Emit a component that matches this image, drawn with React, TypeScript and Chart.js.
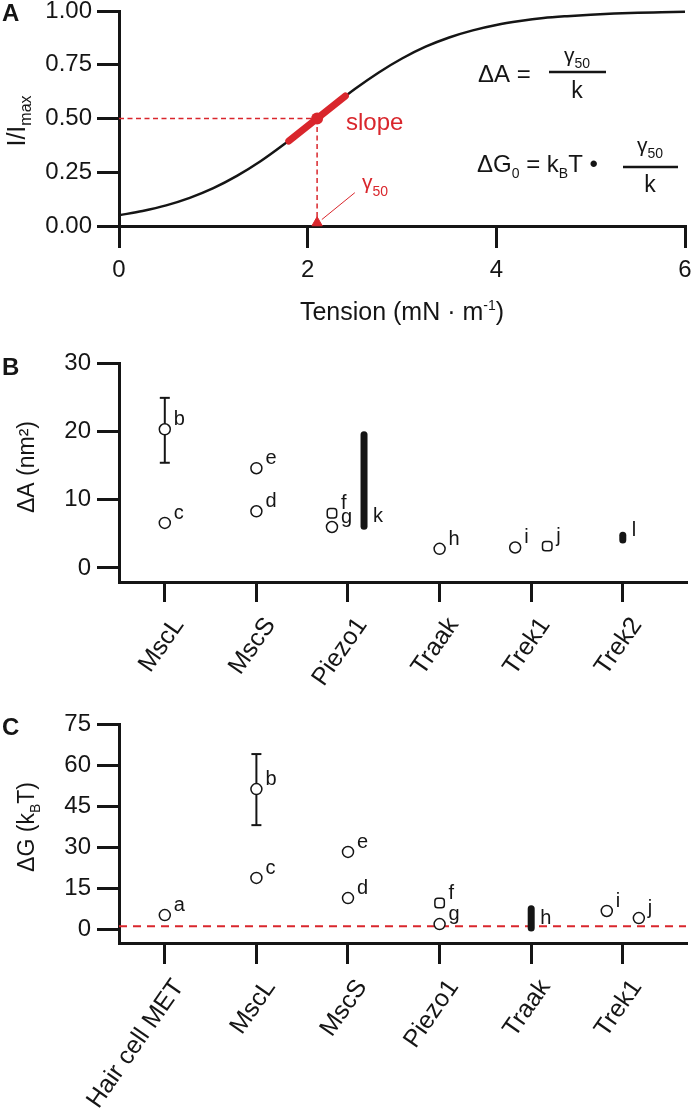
import React, { useEffect, useRef } from 'react';
import { Chart, registerables } from 'chart.js';

Chart.register(...registerables);

// ================= Panel A data =================
const tension = [0, 0.25, 0.5, 0.75, 1, 1.25, 1.5, 1.75, 2, 2.25, 2.5, 2.75, 3, 3.25, 3.5, 3.75, 4, 4.25, 4.5, 4.75, 5, 5.25, 5.5, 5.75, 6];
const normCurrent = [0.05, 0.07, 0.096, 0.131, 0.176, 0.233, 0.301, 0.38, 0.465, 0.552, 0.637, 0.713, 0.779, 0.834, 0.877, 0.91, 0.935, 0.953, 0.967, 0.976, 0.983, 0.988, 0.992, 0.994, 0.996];
const tensionTicks = [0, 2, 4, 6];
const currentTicks = [0, 0.25, 0.5, 0.75, 1];
const gamma50 = 2.1;
const halfCurrent = 0.5;
const slopeTension = [1.8, 2.4];
const slopeCurrent = [0.395, 0.605];
const pointerTension = [2.15, 2.5];
const pointerCurrent = [0.03, 0.155];

// ================= Panel B data =================
const areaChannels = ['MscL', 'MscS', 'Piezo1', 'Traak', 'Trek1', 'Trek2'];
const areaTicks = [0, 10, 20, 30];
const areaRefs = ['b', 'c', 'e', 'd', 'f', 'g', 'h', 'i', 'j'];
const areaChannelIndex = [0, 0, 1, 1, 2, 2, 3, 4, 4];
const areaSide = [0, 0, 0, 0, -1, -1, 0, -1, 1];
const areaValues = [20.3, 6.6, 14.6, 8.3, 8.0, 6.0, 2.8, 3.0, 3.2];
const areaErrRefs = ['b'];
const areaErrLow = [15.4];
const areaErrHigh = [24.9];
const areaRangeRefs = ['k', 'l'];
const areaRangeChannel = [2, 5];
const areaRangeSide = [1, 0];
const areaRangeLow = [6.1, 4.1];
const areaRangeHigh = [19.5, 4.8];

// ================= Panel C data =================
const energyChannels = ['Hair cell MET', 'MscL', 'MscS', 'Piezo1', 'Traak', 'Trek1'];
const energyTicks = [0, 15, 30, 45, 60, 75];
const energyRefs = ['a', 'b', 'c', 'e', 'd', 'f', 'g', 'i', 'j'];
const energyChannelIndex = [0, 1, 1, 2, 2, 3, 3, 5, 5];
const energySide = [0, 0, 0, 0, 0, 0, 0, -1, 1];
const energyValues = [5.1, 51.2, 18.7, 28.2, 11.3, 9.5, 1.8, 6.6, 4.0];
const energyErrRefs = ['b'];
const energyErrLow = [38];
const energyErrHigh = [64];
const energyRangeRefs = ['h'];
const energyRangeChannel = [4];
const energyRangeSide = [0];
const energyRangeLow = [0.4];
const energyRangeHigh = [7.4];
const thermalEnergy = 1;

// ================= Styles =================
const FONT = "'Liberation Sans', Arial, Helvetica, sans-serif";
const INK = '#151515';
const RED = '#d9262c';
const SIDE_STEP = 0.175;
const TRIANGLE_LIFT = 0.015;
const TICK_FONT = 24;
const CAT_FONT = 25;
const CAT_ROTATION = 55;
const AXIS_LEFT = 119;

type Seg = { t: string; size: number; dy?: number; bold?: boolean };

function drawSegs(ctx: any, segs: Seg[], x: number, y: number, align: string, color: string) {
  ctx.save();
  ctx.fillStyle = color;
  ctx.textBaseline = 'alphabetic';
  ctx.textAlign = 'left';
  const fontOf = (s: Seg) => `${s.bold ? 'bold ' : ''}${s.size}px ${FONT}`;
  const widths = segs.map((s) => {
    ctx.font = fontOf(s);
    return ctx.measureText(s.t).width;
  });
  const total = widths.reduce((a, b) => a + b, 0);
  let cx = align === 'left' ? x : align === 'center' ? x - total / 2 : x - total;
  segs.forEach((s, i) => {
    ctx.font = fontOf(s);
    ctx.fillText(s.t, cx, y + (s.dy || 0));
    cx += widths[i];
  });
  ctx.restore();
}

function drawRotated(ctx: any, segs: Seg[], x: number, y: number, color: string) {
  ctx.save();
  ctx.translate(x, y);
  ctx.rotate(-Math.PI / 2);
  drawSegs(ctx, segs, 0, 0, 'center', color);
  ctx.restore();
}

function tickGrid(len: number) {
  return {
    display: true,
    drawOnChartArea: false,
    drawTicks: true,
    tickLength: len,
    tickWidth: 3,
    tickColor: INK,
    color: INK,
    lineWidth: 3,
  };
}
const border = { display: true, color: INK, width: 3 };

function yScale(min: number, max: number, ticks: number[], fmt: (v: number) => string, tickLen: number, pad: number) {
  return {
    type: 'linear',
    min,
    max,
    afterBuildTicks: (s: any) => {
      s.ticks = ticks.map((v) => ({ value: v }));
    },
    afterFit: (s: any) => {
      s.width = AXIS_LEFT;
      s.paddingTop = 0;
      s.paddingBottom = 0;
    },
    ticks: {
      autoSkip: false,
      padding: pad,
      color: INK,
      font: { family: FONT, size: TICK_FONT },
      callback: (v: any) => fmt(Number(v)),
    },
    grid: tickGrid(tickLen),
    border,
  };
}

// ================= Panel A config =================
function configA(): any {
  const line = (xs: number[], ys: number[]) => xs.map((x, i) => ({ x, y: ys[i] }));
  const annot = {
    id: 'annotA',
    afterDraw(chart: any) {
      const ctx = chart.ctx;
      drawSegs(ctx, [{ t: 'A', size: 24, bold: true }], 2, 21, 'left', INK);
      drawRotated(ctx, [{ t: 'I/I', size: 25 }, { t: 'max', size: 16, dy: 6 }], 25, 121, INK);
      drawSegs(ctx, [{ t: 'Tension (mN · m', size: 25 }, { t: '-1', size: 14, dy: -10 }, { t: ')', size: 25 }], 402, 320, 'center', INK);
      drawSegs(ctx, [{ t: 'slope', size: 24 }], 346, 130, 'left', RED);
      drawSegs(ctx, [{ t: 'γ', size: 21 }, { t: '50', size: 14, dy: 7 }], 362, 189, 'left', RED);
      // Equation 1
      drawSegs(ctx, [{ t: 'ΔA =', size: 24 }], 478, 82, 'left', INK);
      drawSegs(ctx, [{ t: 'γ', size: 21 }, { t: '50', size: 14, dy: 6 }], 577, 62, 'center', INK);
      drawSegs(ctx, [{ t: 'k', size: 23 }], 577, 98, 'center', INK);
      // Equation 2
      drawSegs(
        ctx,
        [
          { t: 'ΔG', size: 24 },
          { t: '0', size: 14, dy: 6 },
          { t: ' = k', size: 24 },
          { t: 'B', size: 14, dy: 6 },
          { t: 'T • ', size: 24 },
        ],
        477,
        172,
        'left',
        INK
      );
      drawSegs(ctx, [{ t: 'γ', size: 21 }, { t: '50', size: 14, dy: 6 }], 650, 152, 'center', INK);
      drawSegs(ctx, [{ t: 'k', size: 23 }], 650, 192, 'center', INK);
      ctx.save();
      ctx.strokeStyle = INK;
      ctx.lineWidth = 2.5;
      ctx.beginPath();
      ctx.moveTo(549, 72);
      ctx.lineTo(606, 72);
      ctx.moveTo(623, 167);
      ctx.lineTo(678, 167);
      ctx.stroke();
      ctx.restore();
    },
  };
  return {
    type: 'scatter',
    data: {
      datasets: [
        {
          type: 'scatter',
          data: [{ x: gamma50, y: halfCurrent }],
          pointRadius: 6,
          pointBackgroundColor: RED,
          pointBorderColor: RED,
          pointBorderWidth: 0,
          clip: false,
        },
        {
          type: 'scatter',
          data: [{ x: gamma50, y: TRIANGLE_LIFT }],
          pointStyle: 'triangle',
          pointRadius: 6,
          pointBackgroundColor: RED,
          pointBorderColor: RED,
          pointBorderWidth: 1,
          clip: false,
        },
        {
          type: 'line',
          data: line(slopeTension, slopeCurrent),
          borderColor: RED,
          borderWidth: 7,
          borderCapStyle: 'round',
          pointRadius: 0,
          clip: false,
        },
        {
          type: 'line',
          data: line(pointerTension, pointerCurrent),
          borderColor: RED,
          borderWidth: 1,
          pointRadius: 0,
          clip: false,
        },
        {
          type: 'line',
          data: [
            { x: 0, y: halfCurrent },
            { x: gamma50, y: halfCurrent },
          ],
          borderColor: RED,
          borderWidth: 1.5,
          borderDash: [5, 3.5],
          pointRadius: 0,
          clip: false,
        },
        {
          type: 'line',
          data: [
            { x: gamma50, y: halfCurrent },
            { x: gamma50, y: 0 },
          ],
          borderColor: RED,
          borderWidth: 1.5,
          borderDash: [5, 3.5],
          pointRadius: 0,
          clip: false,
        },
        {
          type: 'line',
          data: line(tension, normCurrent),
          borderColor: INK,
          borderWidth: 2.5,
          cubicInterpolationMode: 'monotone',
          pointRadius: 0,
          clip: false,
        },
      ],
    },
    options: {
      responsive: false,
      animation: false,
      events: [],
      layout: { padding: { top: 11, right: 8, bottom: 0, left: 0 } },
      plugins: { legend: { display: false }, tooltip: { enabled: false } },
      scales: {
        x: {
          type: 'linear',
          min: 0,
          max: 6,
          afterBuildTicks: (s: any) => {
            s.ticks = tensionTicks.map((v) => ({ value: v }));
          },
          afterFit: (s: any) => {
            s.height = 109;
            s.paddingLeft = 0;
            s.paddingRight = 0;
          },
          ticks: { autoSkip: false, maxRotation: 0, minRotation: 0, padding: 8, color: INK, font: { family: FONT, size: TICK_FONT }, callback: (v: any) => String(v) },
          grid: tickGrid(22),
          border,
        },
        y: yScale(0, 1, currentTicks, (v) => v.toFixed(2), 22, 5),
      },
    },
    plugins: [annot],
  };
}

// ================= Category panels (B, C) =================
interface CatPanel {
  channels: string[];
  ticks: number[];
  yMin: number;
  yMax: number;
  xMax: number;
  refs: string[];
  chan: number[];
  side: number[];
  values: number[];
  errRefs: string[];
  errLow: number[];
  errHigh: number[];
  rangeRefs: string[];
  rangeChan: number[];
  rangeSide: number[];
  rangeLow: number[];
  rangeHigh: number[];
  rounded: string[];
  thermal?: number;
  padTop: number;
  xHeight: number;
  tickLen: number;
  letter: string;
  letterBaseline: number;
  title: Seg[];
  titleY: number;
}

const xOf = (c: number, s: number) => c + s * SIDE_STEP;

function configCat(p: CatPanel): any {
  const datasets: any[] = [];
  datasets.push({
    type: 'scatter',
    data: p.values.map((v, i) => ({ x: xOf(p.chan[i], p.side[i]), y: v })),
    pointStyle: p.refs.map((r) => (p.rounded.includes(r) ? 'rectRounded' : 'circle')),
    pointRadius: 5.5,
    pointBorderWidth: 1.5,
    pointBorderColor: INK,
    pointBackgroundColor: '#ffffff',
    clip: false,
  });
  p.errRefs.forEach((r, k) => {
    const i = p.refs.indexOf(r);
    const x = xOf(p.chan[i], p.side[i]);
    datasets.push({
      type: 'line',
      data: [
        { x, y: p.errLow[k] },
        { x, y: p.errHigh[k] },
      ],
      borderColor: INK,
      borderWidth: 2,
      pointStyle: 'line',
      pointRadius: 5,
      pointBorderWidth: 2,
      pointBorderColor: INK,
      clip: false,
    });
  });
  p.rangeRefs.forEach((r, k) => {
    const x = xOf(p.rangeChan[k], p.rangeSide[k]);
    datasets.push({
      type: 'line',
      data: [
        { x, y: p.rangeLow[k] },
        { x, y: p.rangeHigh[k] },
      ],
      borderColor: INK,
      borderWidth: 7,
      borderCapStyle: 'round',
      pointRadius: 0,
      clip: false,
    });
  });
  if (p.thermal !== undefined) {
    datasets.push({
      type: 'line',
      data: [
        { x: -0.5, y: p.thermal },
        { x: p.xMax, y: p.thermal },
      ],
      borderColor: RED,
      borderWidth: 2,
      borderDash: [8, 6],
      pointRadius: 0,
      clip: false,
    });
  }
  const annot = {
    id: 'annotCat',
    afterDatasetsDraw(chart: any) {
      const ctx = chart.ctx;
      const xs = chart.scales.x;
      const ys = chart.scales.y;
      ctx.save();
      ctx.fillStyle = INK;
      ctx.font = `20px ${FONT}`;
      ctx.textAlign = 'left';
      ctx.textBaseline = 'alphabetic';
      p.refs.forEach((r, i) => {
        ctx.fillText(r, xs.getPixelForValue(xOf(p.chan[i], p.side[i])) + 9, ys.getPixelForValue(p.values[i]) - 4);
      });
      p.rangeRefs.forEach((r, k) => {
        ctx.fillText(r, xs.getPixelForValue(xOf(p.rangeChan[k], p.rangeSide[k])) + 9, ys.getPixelForValue(p.rangeLow[k]) - 4);
      });
      ctx.restore();
    },
    afterDraw(chart: any) {
      const ctx = chart.ctx;
      drawSegs(ctx, [{ t: p.letter, size: 24, bold: true }], 2, p.letterBaseline, 'left', INK);
      drawRotated(ctx, p.title, 34, p.titleY, INK);
    },
  };
  return {
    type: 'scatter',
    data: { datasets },
    options: {
      responsive: false,
      animation: false,
      events: [],
      layout: { padding: { top: p.padTop, right: 6, bottom: 0, left: 0 } },
      plugins: { legend: { display: false }, tooltip: { enabled: false } },
      scales: {
        x: {
          type: 'linear',
          min: -0.5,
          max: p.xMax,
          afterBuildTicks: (s: any) => {
            s.ticks = p.channels.map((_, i) => ({ value: i }));
          },
          afterFit: (s: any) => {
            s.height = p.xHeight;
            s.paddingLeft = 0;
            s.paddingRight = 0;
          },
          ticks: {
            autoSkip: false,
            minRotation: CAT_ROTATION,
            maxRotation: CAT_ROTATION,
            padding: 10,
            labelOffset: 14,
            color: INK,
            font: { family: FONT, size: CAT_FONT },
            callback: (_v: any, i: number) => p.channels[i],
          },
          grid: tickGrid(p.tickLen),
          border,
        },
        y: yScale(p.yMin, p.yMax, p.ticks, (v) => String(v), 22, 6),
      },
    },
    plugins: [annot],
  };
}

function configB(): any {
  return configCat({
    channels: areaChannels,
    ticks: areaTicks,
    yMin: -2.05,
    yMax: 30,
    xMax: 5.69,
    refs: areaRefs,
    chan: areaChannelIndex,
    side: areaSide,
    values: areaValues,
    errRefs: areaErrRefs,
    errLow: areaErrLow,
    errHigh: areaErrHigh,
    rangeRefs: areaRangeRefs,
    rangeChan: areaRangeChannel,
    rangeSide: areaRangeSide,
    rangeLow: areaRangeLow,
    rangeHigh: areaRangeHigh,
    rounded: ['f', 'j'],
    padTop: 28,
    xHeight: 118,
    tickLen: 20,
    letter: 'B',
    letterBaseline: 40,
    title: [{ t: 'ΔA (nm²)', size: 23 }],
    titleY: 132,
  });
}

function configC(): any {
  return configCat({
    channels: energyChannels,
    ticks: energyTicks,
    yMin: -5.12,
    yMax: 75,
    xMax: 5.69,
    refs: energyRefs,
    chan: energyChannelIndex,
    side: energySide,
    values: energyValues,
    errRefs: energyErrRefs,
    errLow: energyErrLow,
    errHigh: energyErrHigh,
    rangeRefs: energyRangeRefs,
    rangeChan: energyRangeChannel,
    rangeSide: energyRangeSide,
    rangeLow: energyRangeLow,
    rangeHigh: energyRangeHigh,
    rounded: ['f'],
    thermal: thermalEnergy,
    padTop: 24,
    xHeight: 177,
    tickLen: 21,
    letter: 'C',
    letterBaseline: 35,
    title: [
      { t: 'ΔG (k', size: 23 },
      { t: 'B', size: 14, dy: 6 },
      { t: 'T)', size: 23 },
    ],
    titleY: 127,
  });
}

export default function App() {
  const aRef = useRef<HTMLCanvasElement>(null);
  const bRef = useRef<HTMLCanvasElement>(null);
  const cRef = useRef<HTMLCanvasElement>(null);
  useEffect(() => {
    const charts = [
      new Chart(aRef.current as HTMLCanvasElement, configA()),
      new Chart(bRef.current as HTMLCanvasElement, configB()),
      new Chart(cRef.current as HTMLCanvasElement, configC()),
    ];
    return () => charts.forEach((c) => c.destroy());
  }, []);
  return (
    <div style={{ position: 'absolute', left: 0, top: 0, width: 693, height: 1120, background: '#ffffff', overflow: 'hidden' }}>
      <canvas ref={aRef} width={693} height={335} style={{ position: 'absolute', left: 0, top: 0, width: 693, height: 335 }} />
      <canvas ref={bRef} width={693} height={365} style={{ position: 'absolute', left: 0, top: 335, width: 693, height: 365 }} />
      <canvas ref={cRef} width={693} height={420} style={{ position: 'absolute', left: 0, top: 700, width: 693, height: 420 }} />
    </div>
  );
}
